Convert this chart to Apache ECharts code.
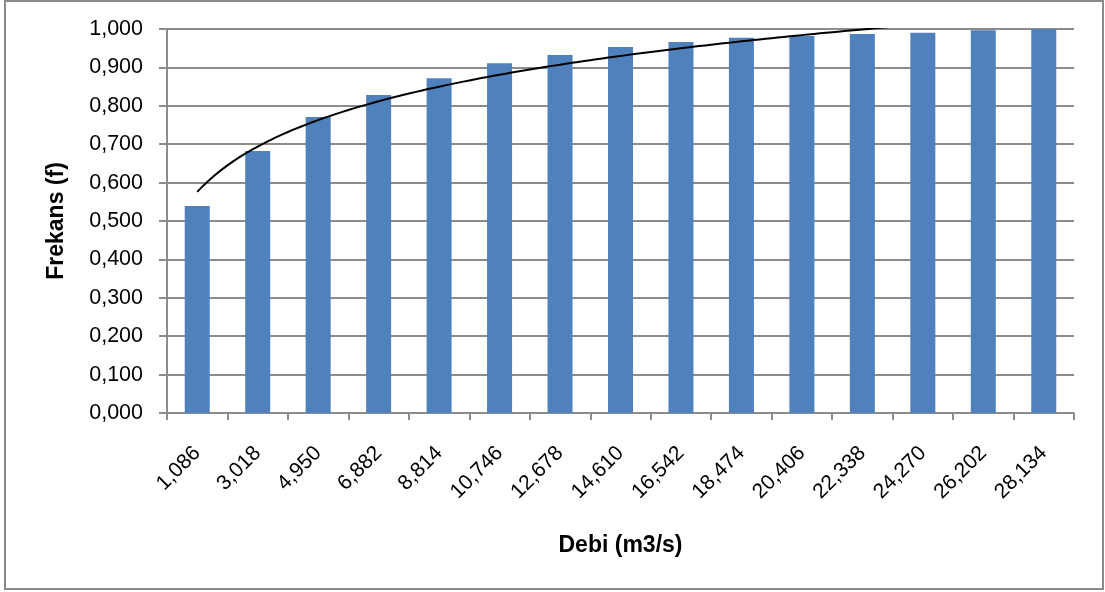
<!DOCTYPE html>
<html>
<head>
<meta charset="utf-8">
<script src="https://cdn.jsdelivr.net/npm/echarts@6/dist/echarts.min.js"></script>
<style>
html,body{margin:0;padding:0;background:#fff;}
#c{width:1105px;height:592px;}
</style>
</head>
<body>
<div id="c"></div>
<script>
const categories = ["1,086","3,018","4,950","6,882","8,814","10,746","12,678","14,610","16,542","18,474","20,406","22,338","24,270","26,202","28,134"];
const frequencies = [0.539,0.682,0.771,0.828,0.872,0.911,0.932,0.953,0.966,0.977,0.982,0.987,0.990,0.997,1.000];
const yTicks = [0,0.1,0.2,0.3,0.4,0.5,0.6,0.7,0.8,0.9,1.0];

// Logarithmic trendline (least squares fit of frequency vs ln(index)), as in the original
function logFit(vals){
  const n = vals.length;
  const lx = vals.map((_,i)=>Math.log(i+1));
  const mx = lx.reduce((a,b)=>a+b,0)/n;
  const my = vals.reduce((a,b)=>a+b,0)/n;
  let sxy=0,sxx=0;
  for(let i=0;i<n;i++){sxy+=(lx[i]-mx)*(vals[i]-my);sxx+=(lx[i]-mx)*(lx[i]-mx);}
  const a=sxy/sxx, b=my-a*mx;
  return x=>a*Math.log(x)+b;
}
const trend = logFit(frequencies);
const trendPts = [];
for(let k=0;k<=140;k++){const x=1+k*0.1;trendPts.push([x,trend(x)]);}

const chart = echarts.init(document.getElementById('c'),null,{renderer:'canvas'});
const gridColor = '#8c8c8c';
const font = 'Liberation Sans';
chart.setOption({
  animation:false,
  graphic:[{type:'rect',shape:{x:5,y:1,width:1098,height:588},style:{fill:'none',stroke:'#8a8a8a',lineWidth:2},silent:true}],
  grid:{left:167,right:31,top:29,bottom:179},
  xAxis:[{
    type:'category',data:categories,boundaryGap:true,
    axisLine:{lineStyle:{color:gridColor,width:2}},
    axisTick:{show:true,length:7,lineStyle:{color:gridColor,width:2}},
    axisLabel:{rotate:45,fontFamily:font,fontSize:21,color:'#000',margin:37,interval:0},
    name:'Debi (m3/s)',nameLocation:'middle',nameGap:133,
    nameTextStyle:{fontFamily:font,fontSize:23,fontWeight:'bold',color:'#000',verticalAlign:'middle'}
  },{
    type:'value',min:0.5,max:15.5,show:false
  }],
  yAxis:{
    type:'value',min:0,max:1,interval:0.1,
    axisLine:{show:true,lineStyle:{color:gridColor,width:2}},
    axisTick:{show:true,length:8,lineStyle:{color:gridColor,width:2}},
    splitLine:{lineStyle:{color:gridColor,width:2}},
    axisLabel:{fontFamily:font,fontSize:21.5,color:'#000',margin:24,
      formatter:v=>v.toFixed(3).replace('.',',')},
    name:'Frekans (f)',nameLocation:'middle',nameGap:110,
    nameTextStyle:{fontFamily:font,fontSize:23,fontWeight:'bold',color:'#000',verticalAlign:'middle'}
  },
  series:[{
    type:'bar',data:frequencies,barWidth:25,xAxisIndex:0,
    itemStyle:{color:'#4F81BD'}
  },{
    type:'line',data:trendPts,xAxisIndex:1,showSymbol:false,symbol:'none',clip:true,
    lineStyle:{color:'#000',width:2},z:5
  }]
});
</script>
</body>
</html>
